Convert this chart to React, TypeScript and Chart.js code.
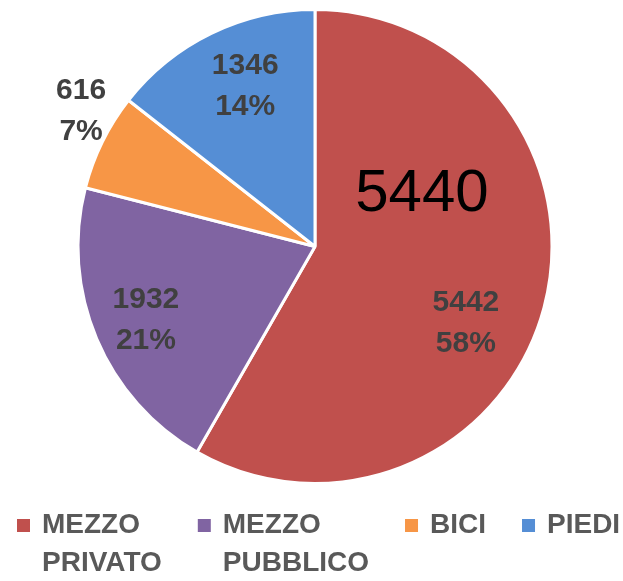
import React, { useEffect, useRef } from "react";
import { Chart, registerables } from "chart.js";

Chart.register(...registerables);

// ---- data ----
const categories = ["MEZZO PRIVATO", "MEZZO PUBBLICO", "BICI", "PIEDI"];
const values = [5442, 1932, 616, 1346];
const sliceColors = ["#C0504D", "#8064A2", "#F79646", "#558ED5"];
const annotationText = "5440";

// ---- label placement (style, not data) ----
const labelRadius = [0.714, 0.778, 1.141, 0.737];
const labelAngleShift = [12, -0.6, 3.9, 2.4];

const sliceLabelsPlugin = {
  id: "sliceLabels",
  afterDatasetsDraw(chart: any) {
    const ctx = chart.ctx;
    const meta = chart.getDatasetMeta(0);
    const data = chart.data.datasets[0].data as number[];
    const total = data.reduce((a, b) => a + b, 0);
    ctx.save();
    ctx.textAlign = "center";
    ctx.textBaseline = "middle";
    ctx.font = "bold 30px 'Liberation Sans', Arial, sans-serif";
    ctx.fillStyle = "#404040";
    meta.data.forEach((arc: any, i: number) => {
      const p = arc.getProps(["x", "y", "startAngle", "endAngle", "outerRadius"], true);
      const mid = (p.startAngle + p.endAngle) / 2 + (labelAngleShift[i] * Math.PI) / 180;
      const r = p.outerRadius * labelRadius[i];
      const cx = p.x + Math.cos(mid) * r;
      const cy = p.y + Math.sin(mid) * r;
      const pct = Math.round((data[i] / total) * 100) + "%";
      ctx.fillText(String(data[i]), cx, cy - 20.5);
      ctx.fillText(pct, cx, cy + 20.5);
    });
    // free text annotation inside the largest slice
    const a0 = meta.data[0].getProps(["x", "y", "outerRadius"], true);
    ctx.font = "60px 'Liberation Sans', Arial, sans-serif";
    ctx.fillStyle = "#000000";
    ctx.fillText(annotationText, a0.x + 0.451 * a0.outerRadius, a0.y - 0.219 * a0.outerRadius);
    ctx.restore();
  },
};

const legendPlugin = {
  id: "rowLegend",
  afterDraw(chart: any) {
    const ctx = chart.ctx;
    const labels = chart.data.labels as string[];
    const colors = chart.data.datasets[0].backgroundColor as string[];
    const startX = 17;
    const y0 = 525.5;
    const box = 13;
    const textGap = 12;
    const itemGap = 36;
    const lineH = 38;
    ctx.save();
    ctx.font = "bold 28px 'Liberation Sans', Arial, sans-serif";
    ctx.textAlign = "left";
    ctx.textBaseline = "middle";
    let x = startX;
    labels.forEach((label, i) => {
      const lines = String(label).split(" ");
      ctx.fillStyle = colors[i];
      ctx.fillRect(x, y0 - box / 2, box, box);
      ctx.fillStyle = "#595959";
      const tx = x + box + textGap;
      let w = 0;
      lines.forEach((ln, j) => {
        ctx.fillText(ln, tx, y0 + j * lineH);
        w = Math.max(w, ctx.measureText(ln).width);
      });
      x = tx + w + itemGap;
    });
    ctx.restore();
  },
};

export default function App() {
  const ref = useRef<HTMLCanvasElement | null>(null);
  useEffect(() => {
    document.body.style.margin = "0";
    const canvas = ref.current!;
    const chart = new Chart(canvas, {
      type: "pie",
      data: {
        labels: categories,
        datasets: [
          {
            data: values,
            backgroundColor: sliceColors,
            borderColor: "#ffffff",
            borderWidth: 3,
          },
        ],
      },
      options: {
        responsive: false,
        animation: false,
        radius: 237,
        layout: { padding: { left: 7, top: 0, right: 0, bottom: 88 } },
        plugins: {
          legend: { display: false },
          tooltip: { enabled: false },
        },
      } as any,
      plugins: [sliceLabelsPlugin, legendPlugin],
    });
    return () => chart.destroy();
  }, []);
  return (
    <div style={{ width: 623, height: 581, background: "#ffffff" }}>
      <canvas ref={ref} width={623} height={581} style={{ display: "block", width: 623, height: 581 }} />
    </div>
  );
}
